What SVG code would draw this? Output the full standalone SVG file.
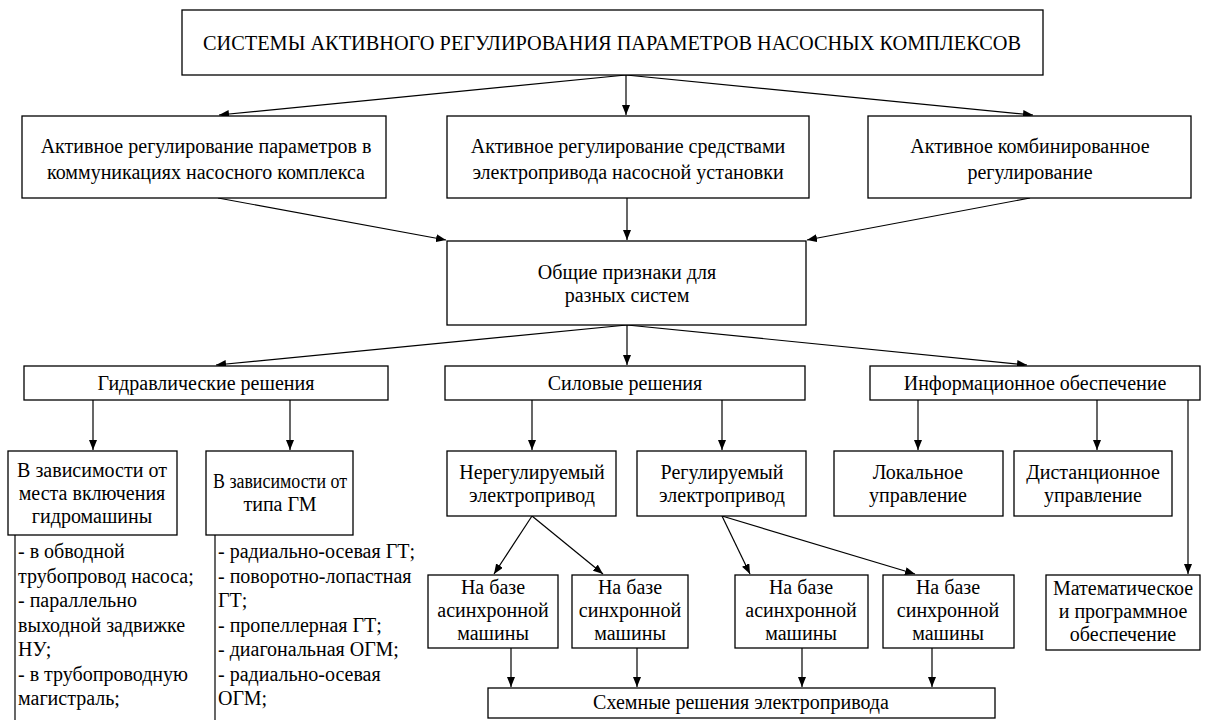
<svg xmlns="http://www.w3.org/2000/svg" width="1209" height="720" viewBox="0 0 1209 720">
<defs>
<marker id="ah" markerWidth="10" markerHeight="8" refX="10" refY="4" orient="auto" markerUnits="userSpaceOnUse">
<path d="M0,0 L10,4 L0,8 z" fill="#000"/>
</marker>
<style>
rect{fill:#fff;stroke:#000;stroke-width:1.3}
text{font-family:"Liberation Serif","Times New Roman",serif;font-size:20px;fill:#000}
.c{text-anchor:middle}
.l{stroke:#000;stroke-width:1.2;fill:none}
.a{stroke:#000;stroke-width:1.2;fill:none;marker-end:url(#ah)}
</style>
</defs>
<rect x="0" y="0" width="1209" height="720" style="fill:#fff;stroke:none"/>
<g id="connectors">
<line class="a" x1="626" y1="75" x2="219" y2="115"/>
<line class="a" x1="626" y1="75" x2="626" y2="115"/>
<line class="a" x1="626" y1="75" x2="1033" y2="115"/>
<line class="a" x1="218" y1="198" x2="446" y2="240"/>
<line class="a" x1="627" y1="198" x2="627" y2="240"/>
<line class="a" x1="1030" y1="198" x2="807" y2="240"/>
<line class="a" x1="627" y1="325" x2="216" y2="365"/>
<line class="a" x1="627" y1="325" x2="627" y2="365"/>
<line class="a" x1="627" y1="325" x2="1027" y2="365"/>
<line class="a" x1="93" y1="400" x2="93" y2="450"/>
<line class="a" x1="290" y1="400" x2="290" y2="450"/>
<line class="a" x1="532" y1="400" x2="532" y2="450"/>
<line class="a" x1="722" y1="400" x2="722" y2="450"/>
<line class="a" x1="918" y1="400" x2="918" y2="450"/>
<line class="a" x1="1097" y1="400" x2="1097" y2="450"/>
<line class="a" x1="1188" y1="400" x2="1188" y2="574"/>
<line class="a" x1="532" y1="516" x2="494" y2="574"/>
<line class="a" x1="532" y1="516" x2="603" y2="574"/>
<line class="a" x1="722" y1="516" x2="750" y2="574"/>
<line class="a" x1="722" y1="516" x2="915" y2="574"/>
<line class="a" x1="511" y1="648" x2="511" y2="687"/>
<line class="a" x1="637" y1="648" x2="637" y2="687"/>
<line class="a" x1="802" y1="648" x2="802" y2="687"/>
<line class="a" x1="932" y1="648" x2="932" y2="687"/>
<line class="l" x1="15" y1="535" x2="15" y2="720"/>
<line class="l" x1="215" y1="535" x2="215" y2="720"/>
</g>
<g id="n-title">
<rect x="182" y="10" width="861" height="65"/>
<text class="c" x="612" y="50" textLength="818" lengthAdjust="spacingAndGlyphs">СИСТЕМЫ АКТИВНОГО РЕГУЛИРОВАНИЯ ПАРАМЕТРОВ НАСОСНЫХ КОМПЛЕКСОВ</text>
</g>
<g id="n-a1">
<rect x="22" y="116" width="364" height="82"/>
<text class="c" x="206" y="153">Активное регулирование параметров в</text>
<text class="c" x="206" y="179">коммуникациях насосного комплекса</text>
</g>
<g id="n-a2">
<rect x="447" y="116" width="362" height="82"/>
<text class="c" x="628" y="153">Активное регулирование средствами</text>
<text class="c" x="628" y="179">электропривода насосной установки</text>
</g>
<g id="n-a3">
<rect x="868" y="116" width="323" height="82"/>
<text class="c" x="1030" y="153">Активное комбинированное</text>
<text class="c" x="1030" y="179">регулирование</text>
</g>
<g id="n-common">
<rect x="447" y="241" width="359" height="84"/>
<text class="c" x="627" y="279">Общие признаки для</text>
<text class="c" x="627" y="302">разных систем</text>
</g>
<g id="n-hydro">
<rect x="24" y="366" width="364" height="34"/>
<text class="c" x="206" y="390">Гидравлические решения</text>
</g>
<g id="n-power">
<rect x="445" y="366" width="360" height="34"/>
<text class="c" x="625" y="390">Силовые решения</text>
</g>
<g id="n-info">
<rect x="870" y="366" width="330" height="34"/>
<text class="c" x="1035" y="390">Информационное обеспечение</text>
</g>
<g id="n-place">
<rect x="8" y="451" width="169" height="84"/>
<text class="c" x="92" y="477">В зависимости от</text>
<text class="c" x="92" y="500">места включения</text>
<text class="c" x="92" y="523">гидромашины</text>
</g>
<g id="n-type">
<rect x="206" y="451" width="147" height="84"/>
<text class="c" x="280" y="488" textLength="134" lengthAdjust="spacingAndGlyphs">В зависимости от</text>
<text class="c" x="280" y="511">типа ГМ</text>
</g>
<g id="n-list1">
<text x="18" y="558">- в обводной</text>
<text x="18" y="582.5">трубопровод насоса;</text>
<text x="18" y="607">- параллельно</text>
<text x="18" y="631.5">выходной задвижке</text>
<text x="18" y="656">НУ;</text>
<text x="18" y="680.5">- в трубопроводную</text>
<text x="18" y="705">магистраль;</text>
</g>
<g id="n-list2">
<text x="218" y="558">- радиально-осевая ГТ;</text>
<text x="218" y="582.5">- поворотно-лопастная</text>
<text x="218" y="607">ГТ;</text>
<text x="218" y="631.5">- пропеллерная ГТ;</text>
<text x="218" y="656">- диагональная ОГМ;</text>
<text x="218" y="680.5">- радиально-осевая</text>
<text x="218" y="705">ОГМ;</text>
</g>
<g id="n-unreg">
<rect x="447" y="451" width="169" height="65"/>
<text class="c" x="532" y="479">Нерегулируемый</text>
<text class="c" x="532" y="502">электропривод</text>
</g>
<g id="n-reg">
<rect x="637" y="451" width="169" height="65"/>
<text class="c" x="722" y="479">Регулируемый</text>
<text class="c" x="722" y="502">электропривод</text>
</g>
<g id="n-local">
<rect x="834" y="451" width="169" height="65"/>
<text class="c" x="918" y="479">Локальное</text>
<text class="c" x="918" y="502">управление</text>
</g>
<g id="n-remote">
<rect x="1014" y="451" width="158" height="65"/>
<text class="c" x="1093" y="479">Дистанционное</text>
<text class="c" x="1093" y="502">управление</text>
</g>
<g id="n-b1">
<rect x="428" y="575" width="130" height="73"/>
<text class="c" x="493" y="594">На базе</text>
<text class="c" x="493" y="617">асинхронной</text>
<text class="c" x="493" y="640">машины</text>
</g>
<g id="n-b2">
<rect x="572" y="575" width="116" height="73"/>
<text class="c" x="630" y="594">На базе</text>
<text class="c" x="630" y="617">синхронной</text>
<text class="c" x="630" y="640">машины</text>
</g>
<g id="n-b3">
<rect x="735" y="575" width="133" height="73"/>
<text class="c" x="801" y="594">На базе</text>
<text class="c" x="801" y="617">асинхронной</text>
<text class="c" x="801" y="640">машины</text>
</g>
<g id="n-b4">
<rect x="883" y="575" width="131" height="73"/>
<text class="c" x="948" y="594">На базе</text>
<text class="c" x="948" y="617">синхронной</text>
<text class="c" x="948" y="640">машины</text>
</g>
<g id="n-math">
<rect x="1046" y="575" width="154" height="75"/>
<text class="c" x="1123" y="595">Математическое</text>
<text class="c" x="1123" y="618">и программное</text>
<text class="c" x="1123" y="641">обеспечение</text>
</g>
<g id="n-scheme">
<rect x="488" y="688" width="507" height="30"/>
<text class="c" x="741" y="709">Схемные решения электропривода</text>
</g>
</svg>
